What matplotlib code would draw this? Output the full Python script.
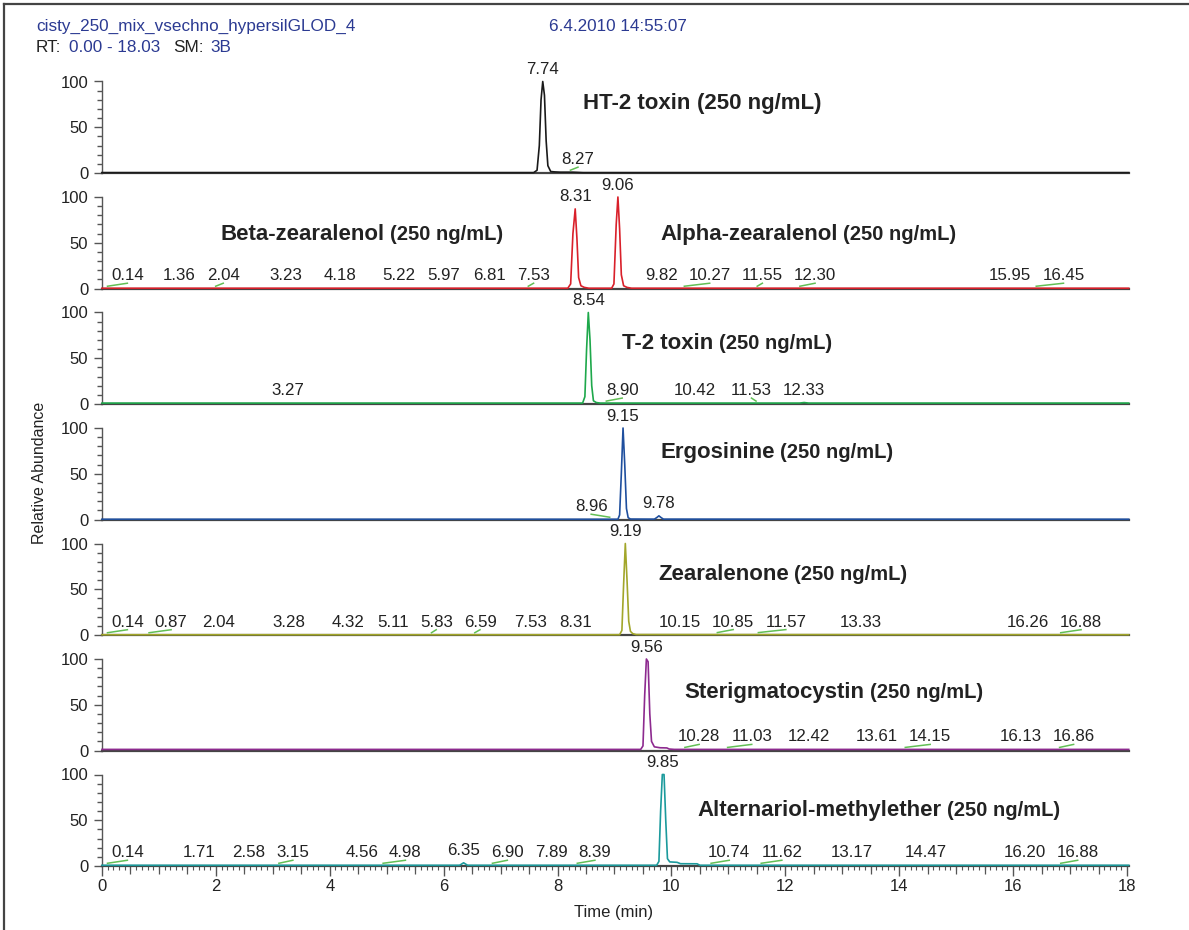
import numpy as np
import matplotlib
matplotlib.use("Agg")
import matplotlib.pyplot as plt
from matplotlib.ticker import MultipleLocator, FixedLocator
from matplotlib.lines import Line2D

plt.rcParams["font.family"] = ["Liberation Sans", "DejaVu Sans"]

# ---------------- data ----------------
file_name = "cisty_250_mix_vsechno_hypersilGLOD_4"
acq_date = "6.4.2010 14:55:07"
rt_range = "0.00 - 18.03"
smoothing = "3B"
concentration = "(250 ng/mL)"

# HT-2 toxin trace
ht2_time = [0.0, 7.58, 7.64, 7.68, 7.71, 7.74, 7.77, 7.80, 7.83, 7.88, 7.95, 8.05, 8.27, 8.45, 18.03]
ht2_abund = [0.4, 0.4, 3.0, 30.0, 80.0, 100.0, 85.0, 35.0, 8.0, 1.6, 1.2, 0.9, 0.9, 0.4, 0.4]
ht2_rts = [7.74, 8.27]

# Beta-/Alpha-zearalenol trace
zeol_time = [0.0, 8.18, 8.23, 8.27, 8.31, 8.34, 8.37, 8.41, 8.47, 8.55,
             8.95, 8.99, 9.03, 9.06, 9.09, 9.12, 9.16, 9.22, 9.30, 18.03]
zeol_abund = [0.3, 0.3, 5.0, 60.0, 87.0, 55.0, 12.0, 3.0, 1.2, 0.3,
              0.3, 5.0, 70.0, 100.0, 65.0, 15.0, 3.0, 1.2, 0.3, 0.3]
zeol_rts = [0.14, 1.36, 2.04, 3.23, 4.18, 5.22, 5.97, 6.81, 7.53, 8.31, 9.06,
            9.82, 10.27, 11.55, 12.30, 15.95, 16.45]

# T-2 toxin trace
t2_time = [0.0, 8.44, 8.48, 8.51, 8.54, 8.57, 8.60, 8.63, 8.68, 8.75, 12.25, 12.33, 12.41, 18.03]
t2_abund = [1.0, 1.0, 8.0, 60.0, 100.0, 70.0, 20.0, 3.5, 1.6, 1.0, 1.0, 1.6, 1.0, 1.0]
t2_rts = [3.27, 8.54, 8.90, 10.42, 11.53, 12.33]

# Ergosinine trace
ergo_time = [0.0, 9.06, 9.09, 9.12, 9.15, 9.18, 9.21, 9.24, 9.28, 9.70, 9.74, 9.78, 9.82, 9.86, 18.03]
ergo_abund = [0.3, 0.3, 5.0, 50.0, 100.0, 60.0, 12.0, 2.0, 0.5, 0.4, 2.0, 4.0, 2.0, 0.4, 0.3]
ergo_rts = [8.96, 9.15, 9.78]

# Zearalenone trace
zen_time = [0.0, 9.09, 9.13, 9.16, 9.19, 9.22, 9.25, 9.28, 9.32, 9.38, 18.03]
zen_abund = [0.3, 0.3, 5.0, 55.0, 100.0, 60.0, 15.0, 4.0, 1.5, 0.5, 0.3]
zen_rts = [0.14, 0.87, 2.04, 3.28, 4.32, 5.11, 5.83, 6.59, 7.53, 8.31, 9.19,
           10.15, 10.85, 11.57, 13.33, 16.26, 16.88]

# Sterigmatocystin trace
ster_time = [0.0, 9.46, 9.50, 9.53, 9.56, 9.59, 9.62, 9.65, 9.70, 9.80, 9.92, 9.96, 10.05, 18.03]
ster_abund = [1.2, 1.2, 5.0, 60.0, 100.0, 97.0, 40.0, 10.0, 4.0, 3.0, 2.8, 1.6, 1.2, 1.2]
ster_rts = [9.56, 10.28, 11.03, 12.42, 13.61, 14.15, 16.13, 16.86]

# Alternariol-methylether trace
ame_time = [0.0, 6.28, 6.35, 6.42, 9.74, 9.78, 9.81, 9.84, 9.87, 9.90, 9.93,
            9.97, 10.10, 10.16, 10.45, 10.50, 18.03]
ame_abund = [0.8, 0.8, 3.5, 0.8, 0.8, 5.0, 60.0, 100.0, 100.0, 50.0, 8.0,
             4.5, 4.0, 2.5, 2.4, 0.8, 0.8]
ame_rts = [0.14, 1.71, 2.58, 3.15, 4.56, 4.98, 6.35, 6.90, 7.89, 8.39, 9.85,
           10.74, 11.62, 13.17, 14.47, 16.20, 16.88]

compound_names = [["HT-2 toxin"], ["Beta-zearalenol", "Alpha-zearalenol"], ["T-2 toxin"],
                  ["Ergosinine"], ["Zearalenone"], ["Sterigmatocystin"],
                  ["Alternariol-methylether"]]

traces = [(ht2_time, ht2_abund, ht2_rts), (zeol_time, zeol_abund, zeol_rts),
          (t2_time, t2_abund, t2_rts), (ergo_time, ergo_abund, ergo_rts),
          (zen_time, zen_abund, zen_rts), (ster_time, ster_abund, ster_rts),
          (ame_time, ame_abund, ame_rts)]

# ---------------- style / layout ----------------
colors = ["#1a1a1a", "#d9202a", "#1ea84b", "#1f4f9e", "#a2a62a", "#8d2a8f", "#1b9a9c"]
name_pos = [[(8.447, 70.0)], [(2.085, 52.5), (9.80, 52.5)], [(9.13, 60.1)],
            [(9.80, 67.2)], [(9.765, 60.1)], [(10.22, 57.4)], [(10.45, 54.6)]]
conc_size = [16, 14.5, 14.5, 14.5, 14.5, 14.5, 14.5]

W, H, DPI = 1189, 930, 100
AX_L, AX_W, AX_H = 102.0, 1026.7, 91.5
Z0, DZ = 173.0, 115.5
XMAX = 18.03
PPM = AX_W / XMAX          # pixels per minute
PPY = AX_H / 100.0         # pixels per abundance unit
GAP, AXIS_GAP = 11.0, 9.0
LBL_FS = 12.2
HDR_FS = 12.3
BLUE = "#2b3a92"
LEADER = "#62bf55"

fig = plt.figure(figsize=(W / DPI, H / DPI), dpi=DPI)
renderer = fig.canvas.get_renderer()


def text_width(s, fs, weight="normal"):
    t = fig.text(0, 0, s, fontsize=fs, fontweight=weight)
    w = t.get_window_extent(renderer).width
    t.remove()
    return w


fine = np.linspace(0, XMAX, 18031)

for i, (tt, yy, rts) in enumerate(traces):
    zb = Z0 + DZ * i
    ax = fig.add_axes([AX_L / W, 1 - zb / H, AX_W / W, AX_H / H])
    ax.set_xlim(0, XMAX)
    ax.set_ylim(0, 100)
    ax.patch.set_alpha(0)
    for s in ["top", "right"]:
        ax.spines[s].set_visible(False)
    ax.spines["left"].set_color("#555555")
    ax.spines["left"].set_linewidth(1.0)
    ax.spines["bottom"].set_color("#444444")
    ax.spines["bottom"].set_linewidth(1.6)
    ax.yaxis.set_major_locator(FixedLocator([0, 50, 100]))
    ax.yaxis.set_minor_locator(MultipleLocator(10))
    ax.tick_params(axis="y", which="major", length=5.8, width=1.0, color="#555555",
                   labelsize=12, pad=4, labelcolor="#222222")
    ax.tick_params(axis="y", which="minor", length=3.6, width=1.0, color="#555555")
    last = i == len(traces) - 1
    if last:
        ax.xaxis.set_major_locator(MultipleLocator(2))
        ax.xaxis.set_minor_locator(MultipleLocator(0.1))
        ax.tick_params(axis="x", which="major", length=7.2, width=1.0, color="#555555",
                       labelsize=12, pad=2, labelcolor="#222222")
        ax.tick_params(axis="x", which="minor", length=3.2, width=0.8, color="#555555")
        sec = ax.secondary_xaxis("bottom")
        sec.set_xticks([v for v in np.arange(0.5, 18.0, 0.5) if abs(v / 2 - round(v / 2)) > 1e-6])
        sec.tick_params(axis="x", length=5.6, width=0.9, color="#555555", labelbottom=False)
        sec.spines["bottom"].set_visible(False)
    else:
        ax.tick_params(axis="x", which="both", bottom=False, labelbottom=False)

    ax.plot(tt, yy, color=colors[i], lw=1.2, clip_on=False, zorder=3)

    # ---- peak labels (placed like the data system: no overlaps, leader lines) ----
    prof = np.interp(fine, tt, yy)
    base = min(yy)
    levels = []
    for r in rts:
        m = (fine >= r - 0.03) & (fine <= r + 0.03)
        levels.append(float(prof[m].max()))
    obstacles = []
    for r, lv in zip(rts, levels):
        if lv > 20:
            k = int(np.argmin(np.abs(fine - r)))
            a = k
            while a > 0 and prof[a - 1] > base + 1.5:
                a -= 1
            b = k
            while b < len(fine) - 1 and prof[b + 1] > base + 1.5:
                b += 1
            obstacles.append((fine[a] * PPM, fine[b] * PPM))
    labels = ["%.2f" % r for r in rts]
    widths = [text_width(s, LBL_FS) for s in labels]
    order = sorted(range(len(rts)), key=lambda j: (-round(levels[j], 2), rts[j]))
    placed = []
    centers = {}
    for j in order:
        c0 = rts[j] * PPM
        if levels[j] > 20:
            centers[j] = c0
            continue
        w = widths[j]
        forb = [(L - GAP - w / 2, R + GAP + w / 2) for (L, R) in placed + obstacles]
        lo = AXIS_GAP + w / 2
        cands = [c0, lo] + [v for f in forb for v in f]
        ok = [c for c in cands if c >= lo - 1e-6 and
              not any(a + 1e-6 < c < b - 1e-6 for a, b in forb)]
        c = min(ok, key=lambda c: abs(c - c0))
        centers[j] = c
        placed.append((c - w / 2, c + w / 2))
    for j, r in enumerate(rts):
        c = centers[j]
        dx = c - r * PPM
        off = 7.5 if levels[j] > 20 else 8.0
        ax.text(c / PPM, levels[j] + off / PPY, labels[j], fontsize=LBL_FS, ha="center",
                va="baseline", color="#222222", clip_on=False, zorder=5)
        if abs(dx) > 1.5 and levels[j] <= 20:
            ax.add_line(Line2D([(r * PPM - 2.5) / PPM, c / PPM],
                               [levels[j] + 2.0 / PPY, levels[j] + 5.0 / PPY],
                               color=LEADER, lw=1.1, clip_on=False, zorder=4))

    # ---- compound names ----
    for name, (nx, ny) in zip(compound_names[i], name_pos[i]):
        t = ax.text(nx, ny, name, fontsize=16, fontweight="bold", ha="left",
                    va="baseline", color="#222222")
        wpx = t.get_window_extent(renderer).width
        sp = text_width("a a", conc_size[i], "bold") - text_width("aa", conc_size[i], "bold")
        ax.text(nx + (wpx + sp) / PPM, ny, concentration, fontsize=conc_size[i],
                fontweight="bold", ha="left", va="baseline", color="#222222")

# ---------------- header, axis titles, frame ----------------
fig.text(36 / W, 1 - 31 / H, file_name, fontsize=HDR_FS, color=BLUE, va="baseline")
fig.text(549 / W, 1 - 31 / H, acq_date, fontsize=HDR_FS, color=BLUE, va="baseline")
for s, col, xpx in [("RT:", "#222222", 36), (rt_range, BLUE, 69),
                    ("SM:", "#222222", 173), (smoothing, BLUE, 210)]:
    fig.text(xpx / W, 1 - 52 / H, s, fontsize=HDR_FS, color=col, va="baseline")

fig.text(40 / W, 1 - 473 / H, "Relative Abundance", rotation=90, ha="center", va="center",
         fontsize=11.5, color="#222222")
fig.text(614 / W, 1 - 912 / H, "Time (min)", ha="center", va="center", fontsize=12,
         color="#222222")

fig.add_artist(Line2D([4 / W, 1.0], [1 - 4 / H, 1 - 4 / H], color="#444444", lw=1.6,
                      transform=fig.transFigure))
fig.add_artist(Line2D([4 / W, 4 / W], [0.0, 1 - 4 / H], color="#444444", lw=1.6,
                      transform=fig.transFigure))

fig.savefig("out.png", dpi=DPI)
